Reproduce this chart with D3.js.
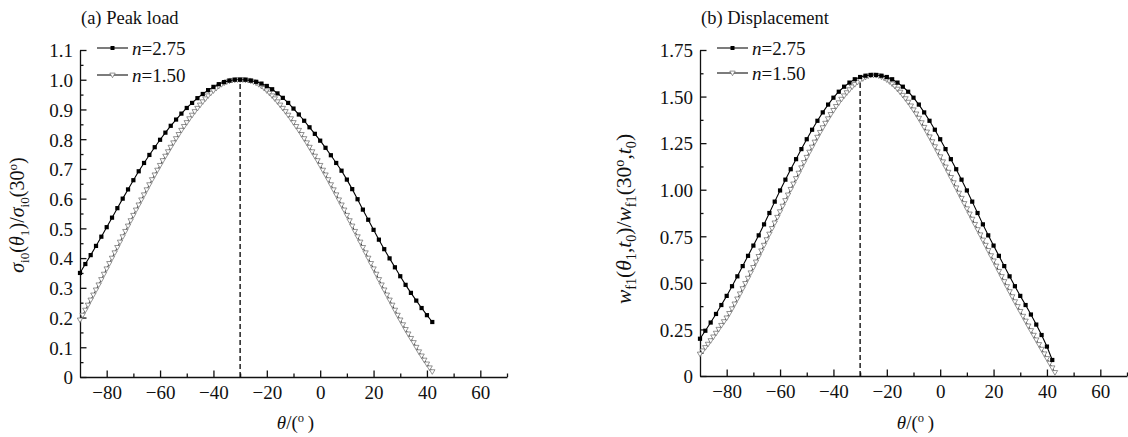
<!DOCTYPE html>
<html>
<head>
<meta charset="utf-8">
<script src="https://cdn.jsdelivr.net/npm/d3@7"></script>
<style>
  html, body { margin: 0; padding: 0; background: #fff; }
  svg { display: block; }
  svg text { font-family: "Liberation Serif", "Times New Roman", serif; }
</style>
</head>
<body>
<div id="chart"></div>
<script>
// angles theta (deg) - squares every 2 deg, triangles every 1 deg
const thetaCoarse = [-90, -88, -86, -84, -82, -80, -78, -76, -74, -72,
  -70, -68, -66, -64, -62, -60, -58, -56, -54, -52,
  -50, -48, -46, -44, -42, -40, -38, -36, -34, -32,
  -30, -28, -26, -24, -22, -20, -18, -16, -14, -12,
  -10, -8, -6, -4, -2, 0, 2, 4, 6, 8,
  10, 12, 14, 16, 18, 20, 22, 24, 26, 28,
  30, 32, 34, 36, 38, 40, 42];

const thetaFine = [-90, -89, -88, -87, -86, -85, -84, -83, -82, -81,
  -80, -79, -78, -77, -76, -75, -74, -73, -72, -71,
  -70, -69, -68, -67, -66, -65, -64, -63, -62, -61,
  -60, -59, -58, -57, -56, -55, -54, -53, -52, -51,
  -50, -49, -48, -47, -46, -45, -44, -43, -42, -41,
  -40, -39, -38, -37, -36, -35, -34, -33, -32, -31,
  -30, -29, -28, -27, -26, -25, -24, -23, -22, -21,
  -20, -19, -18, -17, -16, -15, -14, -13, -12, -11,
  -10, -9, -8, -7, -6, -5, -4, -3, -2, -1,
  0, 1, 2, 3, 4, 5, 6, 7, 8, 9,
  10, 11, 12, 13, 14, 15, 16, 17, 18, 19,
  20, 21, 22, 23, 24, 25, 26, 27, 28, 29,
  30, 31, 32, 33, 34, 35, 36, 37, 38, 39,
  40, 41, 42, 43];

// (a) peak load, n = 2.75 (on thetaCoarse)
const loadN275 = [0.350, 0.380, 0.410, 0.441, 0.472, 0.504, 0.536, 0.568, 0.600, 0.631,
  0.662, 0.692, 0.720, 0.747, 0.773, 0.798, 0.822, 0.845, 0.866, 0.886,
  0.905, 0.922, 0.938, 0.952, 0.965, 0.976, 0.985, 0.992, 0.997, 1.000,
  1.000, 1.000, 0.997, 0.993, 0.987, 0.979, 0.968, 0.954, 0.939, 0.922,
  0.903, 0.883, 0.862, 0.840, 0.818, 0.795, 0.771, 0.746, 0.720, 0.694,
  0.664, 0.632, 0.598, 0.563, 0.529, 0.495, 0.462, 0.430, 0.399, 0.369,
  0.339, 0.310, 0.283, 0.257, 0.232, 0.208, 0.185];

// (a) peak load, n = 1.50 (on thetaFine, -90..42)
const loadN150 = [0.192, 0.208, 0.225, 0.242, 0.259, 0.276, 0.293, 0.310, 0.328, 0.346,
  0.364, 0.382, 0.400, 0.418, 0.436, 0.454, 0.472, 0.490, 0.508, 0.526,
  0.544, 0.562, 0.579, 0.596, 0.613, 0.630, 0.647, 0.664, 0.680, 0.696,
  0.712, 0.728, 0.743, 0.758, 0.773, 0.788, 0.802, 0.816, 0.830, 0.843,
  0.856, 0.869, 0.881, 0.893, 0.904, 0.915, 0.926, 0.936, 0.946, 0.955,
  0.963, 0.971, 0.978, 0.984, 0.989, 0.993, 0.996, 0.998, 0.999, 1.000,
  1.000, 1.000, 0.999, 0.998, 0.996, 0.993, 0.989, 0.984, 0.978, 0.971,
  0.963, 0.955, 0.946, 0.936, 0.926, 0.915, 0.904, 0.893, 0.881, 0.869,
  0.856, 0.843, 0.830, 0.816, 0.802, 0.788, 0.773, 0.758, 0.743, 0.728,
  0.712, 0.696, 0.680, 0.664, 0.647, 0.630, 0.613, 0.596, 0.579, 0.562,
  0.544, 0.526, 0.508, 0.490, 0.472, 0.454, 0.436, 0.418, 0.400, 0.382,
  0.364, 0.346, 0.328, 0.310, 0.293, 0.276, 0.259, 0.242, 0.225, 0.208,
  0.192, 0.176, 0.160, 0.145, 0.130, 0.116, 0.100, 0.085, 0.071, 0.057,
  0.044, 0.031, 0.018];

// (b) displacement, n = 2.75 (on thetaCoarse)
const dispN275 = [0.200, 0.243, 0.287, 0.333, 0.381, 0.430, 0.482, 0.535, 0.590, 0.645,
  0.700, 0.755, 0.814, 0.875, 0.936, 0.996, 1.054, 1.110, 1.164, 1.218,
  1.271, 1.322, 1.370, 1.415, 1.457, 1.494, 1.526, 1.553, 1.575, 1.593,
  1.605, 1.612, 1.616, 1.616, 1.612, 1.605, 1.593, 1.575, 1.553, 1.526,
  1.494, 1.457, 1.415, 1.370, 1.322, 1.271, 1.218, 1.164, 1.110, 1.054,
  0.996, 0.936, 0.875, 0.814, 0.755, 0.700, 0.645, 0.590, 0.535, 0.482,
  0.430, 0.381, 0.330, 0.276, 0.220, 0.158, 0.086];

// (b) displacement, n = 1.50 (on thetaFine, -90..43)
const dispN150 = [0.118, 0.135, 0.153, 0.171, 0.190, 0.210, 0.230, 0.251, 0.272, 0.292,
  0.312, 0.336, 0.361, 0.387, 0.414, 0.441, 0.469, 0.497, 0.525, 0.554,
  0.583, 0.612, 0.642, 0.672, 0.702, 0.732, 0.762, 0.792, 0.822, 0.852,
  0.882, 0.912, 0.942, 0.972, 1.002, 1.031, 1.060, 1.089, 1.118, 1.146,
  1.174, 1.202, 1.229, 1.256, 1.282, 1.308, 1.333, 1.357, 1.381, 1.404,
  1.426, 1.447, 1.467, 1.486, 1.504, 1.521, 1.537, 1.552, 1.565, 1.577,
  1.587, 1.596, 1.604, 1.610, 1.614, 1.615, 1.614, 1.611, 1.606, 1.599,
  1.590, 1.580, 1.568, 1.555, 1.540, 1.524, 1.507, 1.489, 1.470, 1.450,
  1.429, 1.407, 1.384, 1.360, 1.335, 1.310, 1.284, 1.258, 1.231, 1.204,
  1.177, 1.150, 1.122, 1.094, 1.066, 1.038, 1.010, 0.982, 0.954, 0.926,
  0.898, 0.870, 0.842, 0.814, 0.786, 0.758, 0.730, 0.702, 0.674, 0.646,
  0.618, 0.590, 0.562, 0.534, 0.507, 0.480, 0.453, 0.426, 0.399, 0.373,
  0.347, 0.321, 0.295, 0.269, 0.244, 0.219, 0.194, 0.169, 0.144, 0.119,
  0.094, 0.069, 0.044, 0.019];

// axes
const xDomain = [-90, 70];
const xTicks = [-80, -60, -40, -20, 0, 20, 40, 60];
const xTickLabels = ["\u221280", "\u221260", "\u221240", "\u221220", "0", "20", "40", "60"];
const xMinor = [-70, -50, -30, -10, 10, 30, 50, 70];

const yDomainA = [0, 1.1];
const yTicksA = [0, 0.1, 0.2, 0.3, 0.4, 0.5, 0.6, 0.7, 0.8, 0.9, 1.0, 1.1];
const yTickLabelsA = ["0", "0.1", "0.2", "0.3", "0.4", "0.5", "0.6", "0.7", "0.8", "0.9", "1.0", "1.1"];
const yMinorA = [0.05, 0.15, 0.25, 0.35, 0.45, 0.55, 0.65, 0.75, 0.85, 0.95, 1.05];

const yDomainB = [0, 1.75];
const yTicksB = [0, 0.25, 0.5, 0.75, 1.0, 1.25, 1.5, 1.75];
const yTickLabelsB = ["0", "0.25", "0.50", "0.75", "1.00", "1.25", "1.50", "1.75"];
const yMinorB = [0.125, 0.375, 0.625, 0.875, 1.125, 1.375, 1.625];

// dashed reference line at theta = -30
const refAngle = -30;
const refTopA = 1.0;
const refTopB = 1.59;

const legendNames = ["2.75", "1.50"];

const FONT = 19;
const SERIF = "'Liberation Serif', 'Times New Roman', serif";

const svg = d3.select("#chart").append("svg")
    .attr("width", 1128)
    .attr("height", 437);

svg.append("rect").attr("width", 1128).attr("height", 437).attr("fill", "#fff");

// write text made of parts (italic / sub / sup)
const rich = function (sel, parts, size) {
    let shift = 0;
    parts.forEach(pt => {
        const target = pt.s === "sub" ? 4.5 : pt.s === "sup" ? -7.5 : 0;
        sel.append("tspan")
            .attr("dy", target - shift)
            .attr("font-style", pt.i ? "italic" : null)
            .attr("font-size", pt.s ? size * 0.66 : size)
            .text(pt.t);
        shift = target;
    });
};

const triPath = "M-2.7,-1.9L2.7,-1.9L0,2.7Z";

const drawPanel = function (p) {
    const x = d3.scaleLinear().domain(xDomain).range([p.left, p.right]);
    const y = d3.scaleLinear().domain(p.yDomain).range([p.bottom, p.top]);
    const g = svg.append("g").attr("font-family", SERIF);

    // minor ticks
    g.append("g")
        .attr("transform", `translate(0,${p.bottom})`)
        .call(d3.axisBottom(x).tickValues(xMinor).tickSize(-3.5).tickFormat(""))
        .call(a => a.select(".domain").remove());
    g.append("g")
        .attr("transform", `translate(${p.left},0)`)
        .call(d3.axisLeft(y).tickValues(p.yMinor).tickSize(-3.5).tickFormat(""))
        .call(a => a.select(".domain").remove());

    // major axes
    const xAxis = g.append("g")
        .attr("transform", `translate(0,${p.bottom})`)
        .call(d3.axisBottom(x).tickValues(xTicks).tickSizeInner(-6.5).tickSizeOuter(0)
            .tickPadding(9).tickFormat((d, i) => xTickLabels[i]));
    const yAxis = g.append("g")
        .attr("transform", `translate(${p.left},0)`)
        .call(d3.axisLeft(y).tickValues(p.yTicks).tickSizeInner(-6.5).tickSizeOuter(0)
            .tickPadding(7).tickFormat((d, i) => p.yTickLabels[i]));

    [xAxis, yAxis].forEach(a => {
        a.attr("font-family", SERIF).attr("font-size", FONT);
        a.selectAll("text").attr("fill", "#111").attr("font-family", SERIF);
    });
    yAxis.selectAll("text").attr("dy", "0.36em");
    g.selectAll(".domain, .tick line").attr("stroke", "#111").attr("stroke-width", 1.3);

    // dashed line
    g.append("line")
        .attr("x1", x(refAngle)).attr("x2", x(refAngle))
        .attr("y1", y(0)).attr("y2", y(p.refTop))
        .attr("stroke", "#111")
        .attr("stroke-width", 1.4)
        .attr("stroke-dasharray", "5,3");

    const line = d3.line().x(d => x(d[0])).y(d => y(d[1]));

    // n = 1.50 (hollow triangles)
    const fine = p.n150.map((v, i) => [thetaFine[i], v]);
    g.append("path")
        .datum(fine)
        .attr("fill", "none")
        .attr("stroke", "#222")
        .attr("stroke-width", 0.9)
        .attr("d", line);
    g.selectAll(".tri")
        .data(fine)
        .join("path")
        .attr("class", "tri")
        .attr("transform", d => `translate(${x(d[0])},${y(d[1])})`)
        .attr("d", triPath)
        .attr("fill", "#fff")
        .attr("stroke", "#666")
        .attr("stroke-width", 0.7);

    // n = 2.75 (filled squares)
    const coarse = p.n275.map((v, i) => [thetaCoarse[i], v]);
    g.append("path")
        .datum(coarse)
        .attr("fill", "none")
        .attr("stroke", "#000")
        .attr("stroke-width", 1.1)
        .attr("d", line);
    g.selectAll(".sq")
        .data(coarse)
        .join("rect")
        .attr("class", "sq")
        .attr("x", d => x(d[0]) - 2.1)
        .attr("y", d => y(d[1]) - 2.1)
        .attr("width", 4.2)
        .attr("height", 4.2)
        .attr("fill", "#000");

    // title
    g.append("text")
        .attr("x", p.left + 1)
        .attr("y", 24)
        .attr("font-size", 18.5)
        .attr("fill", "#111")
        .text(p.title);

    // legend
    legendNames.forEach((name, i) => {
        const ly = p.legendY[i];
        const lx = p.left + 17;
        g.append("line")
            .attr("x1", lx).attr("x2", lx + 31)
            .attr("y1", ly).attr("y2", ly)
            .attr("stroke", "#111").attr("stroke-width", 1.1);
        if (i === 0) {
            g.append("rect").attr("x", lx + 13.5).attr("y", ly - 2).attr("width", 4).attr("height", 4).attr("fill", "#000");
        } else {
            g.append("path").attr("transform", `translate(${lx + 15.5},${ly})`).attr("d", triPath)
                .attr("fill", "#fff").attr("stroke", "#666").attr("stroke-width", 0.7);
        }
        const t = g.append("text")
            .attr("x", lx + 35)
            .attr("y", ly + 6.5)
            .attr("font-size", FONT)
            .attr("fill", "#111");
        rich(t, [{ t: "n", i: true }, { t: "=" + name }], FONT);
    });

    // x label
    const xl = g.append("text")
        .attr("x", (p.left + p.right) / 2 + 2)
        .attr("y", 429)
        .attr("text-anchor", "middle")
        .attr("font-size", FONT)
        .attr("fill", "#111");
    rich(xl, [{ t: "\u03b8", i: true }, { t: "/(" }, { t: "o", s: "sup" }, { t: "\u2009)" }], FONT);

    // y label
    const yl = g.append("text")
        .attr("transform", `translate(${p.ylabelX},${p.ylabelY}) rotate(-90)`)
        .attr("text-anchor", "middle")
        .attr("font-size", p.ylabelSize)
        .attr("fill", "#111");
    rich(yl, p.ylabel, p.ylabelSize);
};

drawPanel({
    left: 80, right: 507, top: 50, bottom: 377,
    yDomain: yDomainA, yTicks: yTicksA, yTickLabels: yTickLabelsA, yMinor: yMinorA,
    n275: loadN275, n150: loadN150, refTop: refTopA,
    title: "(a) Peak load",
    legendY: [48, 75],
    ylabelX: 24, ylabelY: 215, ylabelSize: 20,
    ylabel: [
        { t: "\u03c3", i: true }, { t: "i0", s: "sub" }, { t: "(" }, { t: "\u03b8", i: true }, { t: "1", s: "sub" },
        { t: ")/" }, { t: "\u03c3", i: true }, { t: "i0", s: "sub" }, { t: "(30" }, { t: "o", s: "sup" }, { t: ")" }
    ]
});

drawPanel({
    left: 700, right: 1127, top: 50, bottom: 376,
    yDomain: yDomainB, yTicks: yTicksB, yTickLabels: yTickLabelsB, yMinor: yMinorB,
    n275: dispN275, n150: dispN150, refTop: refTopB,
    title: "(b) Displacement",
    legendY: [48, 73],
    ylabelX: 631, ylabelY: 219, ylabelSize: 21.5,
    ylabel: [
        { t: "w", i: true }, { t: "f1", s: "sub" }, { t: "(" }, { t: "\u03b8", i: true }, { t: "1", s: "sub" },
        { t: "," }, { t: "t", i: true }, { t: "0", s: "sub" }, { t: ")/" },
        { t: "w", i: true }, { t: "f1", s: "sub" }, { t: "(30" }, { t: "o", s: "sup" }, { t: "," },
        { t: "t", i: true }, { t: "0", s: "sub" }, { t: ")" }
    ]
});
</script>
</body>
</html>
